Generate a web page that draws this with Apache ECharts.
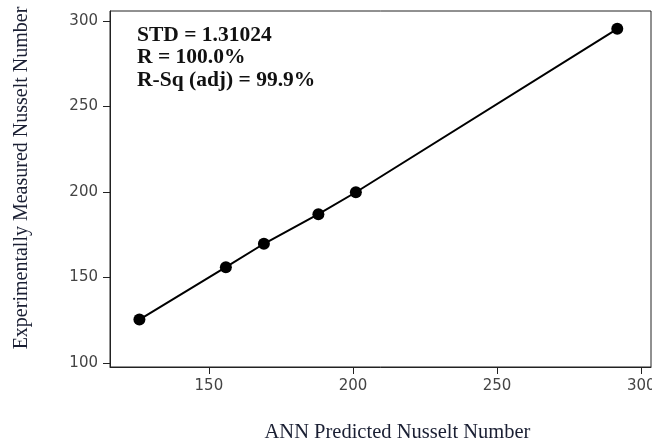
<!DOCTYPE html>
<html>
<head>
<meta charset="utf-8">
<script src="https://cdn.jsdelivr.net/npm/echarts@6/dist/echarts.min.js"></script>
<style>
  html, body { margin: 0; padding: 0; background: #fff; }
  #chart { width: 652px; height: 444px; }
</style>
</head>
<body>
<div id="chart"></div>
<script>
// ANN predicted vs measured Nusselt number
const predicted = [125.9, 155.9, 169.1, 188.0, 201.0, 291.7];
const measured = [125.4, 156.0, 169.7, 187.0, 199.8, 295.3];
const xTicks = [150, 200, 250, 300];
const yTicks = [100, 150, 200, 250, 300];
const statsLines = ['STD = 1.31024', 'R = 100.0%', 'R-Sq (adj) = 99.9%'];

const chart = echarts.init(document.getElementById('chart'));

const serif = '"Liberation Serif", "DejaVu Serif", serif';
const tickFont = {
    fontFamily: '"DejaVu Sans", sans-serif',
    fontSize: 15,
    color: '#444'
};

chart.setOption({
    animation: false,
    grid: {
        left: 110,
        right: 1,
        top: 11,
        bottom: 77,
        outerBoundsMode: 'none',
        containLabel: false,
        show: true,
        borderColor: '#222',
        borderWidth: 1
    },
    xAxis: {
        type: 'value',
        min: 115.7,
        max: 303.4,
        name: 'ANN Predicted Nusselt Number',
        nameLocation: 'middle',
        nameGap: 55,
        nameTextStyle: {
            fontFamily: serif,
            fontSize: 20.5,
            color: '#1a1f33',
            padding: [0, 0, 0, 34]
        },
        axisLine: { show: true, onZero: false, lineStyle: { color: '#222', width: 1 } },
        axisTick: { show: true, length: 7, customValues: xTicks, lineStyle: { color: '#222', width: 1 } },
        axisLabel: Object.assign({ customValues: xTicks, margin: 12 }, tickFont),
        splitLine: { show: false }
    },
    yAxis: {
        type: 'value',
        min: 97.7,
        max: 305.7,
        name: 'Experimentally Measured Nusselt Number',
        nameLocation: 'middle',
        nameGap: 78,
        nameTextStyle: {
            fontFamily: serif,
            fontSize: 20,
            color: '#1a1f33',
            padding: [0, 0, 0, 22]
        },
        axisLine: { show: true, onZero: false, lineStyle: { color: '#222', width: 1 } },
        axisTick: { show: true, length: 7, customValues: yTicks, lineStyle: { color: '#222', width: 1 } },
        axisLabel: Object.assign({ customValues: yTicks, margin: 12 }, tickFont),
        splitLine: { show: false }
    },
    graphic: [{
        type: 'text',
        left: 137,
        top: 24,
        style: {
            text: statsLines.join('\n'),
            font: 'bold 21.5px ' + serif,
            lineHeight: 22.5,
            fill: '#111'
        }
    }],
    series: [{
        type: 'line',
        data: predicted.map((x, i) => [x, measured[i]]),
        symbol: 'circle',
        symbolSize: 12,
        itemStyle: { color: '#000' },
        lineStyle: { color: '#000', width: 2 }
    }]
});
</script>
</body>
</html>
